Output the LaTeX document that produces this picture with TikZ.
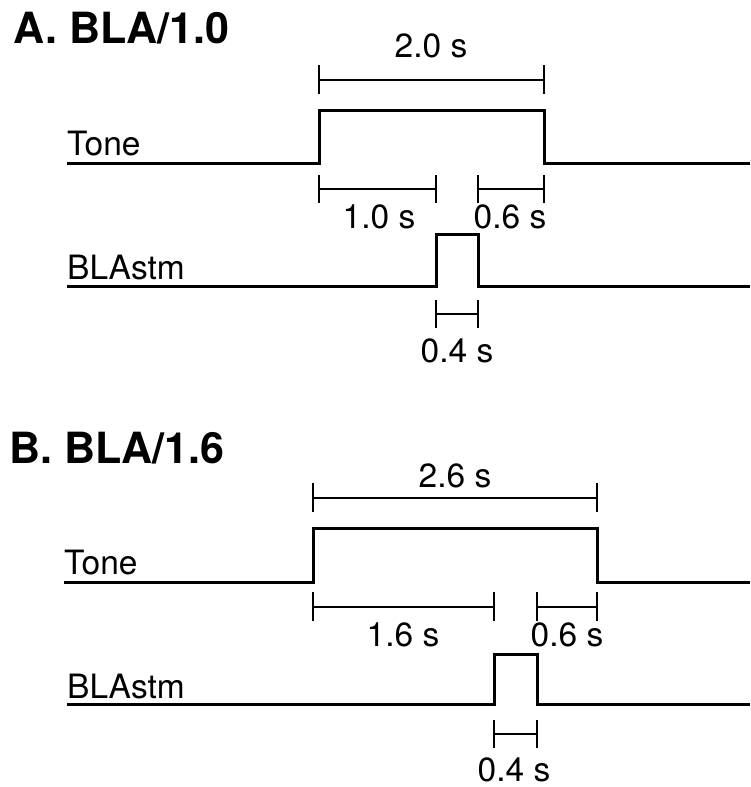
\documentclass[tikz,border=0pt]{standalone}
\usepackage{fontspec}
\setmainfont{TeX Gyre Heros}
\begin{document}
\begin{tikzpicture}[x=1pt,y=-1pt,
  signal/.style={line width=3pt,line join=miter},
  bracket/.style={line width=1.8pt},
  lbl/.style={inner sep=0pt,anchor=base,font=\fontsize{33.5}{36}\selectfont},
  side/.style={inner sep=0pt,anchor=base west,font=\fontsize{33.5}{36}\selectfont},
  ttl/.style={inner sep=0pt,anchor=base west,font=\fontsize{43}{47}\selectfont\bfseries}]
\useasboundingbox (0,0) rectangle (750,787);

% ---------------- Panel A ----------------
\node[ttl] (tA) at (13,43) {A. BLA/1.0};
\node[side] (toneA) at (67,155) {Tone};
\node[side] (stmA) at (67,279) {BLAstm};

\coordinate (a0) at (67,163);
\coordinate (a1) at (319,163);
\coordinate (a2) at (319,110);
\coordinate (a3) at (544,110);
\coordinate (a4) at (544,163);
\coordinate (a5) at (750,163);
\draw[signal] (a0) -- (a1) -- (a2) -- (a3) -- (a4) -- (a5);

\coordinate (b0) at (67,286);
\coordinate (b1) at (436,286);
\coordinate (b2) at (436,234);
\coordinate (b3) at (478,234);
\coordinate (b4) at (478,286);
\coordinate (b5) at (750,286);
\draw[signal] (b0) -- (b1) -- (b2) -- (b3) -- (b4) -- (b5);

% brackets A
\coordinate (p1) at (319,80); \coordinate (p2) at (544,80);
\draw[bracket] (p1) -- (p2);
\draw[bracket] ([yshift=-14]p1) -- ([yshift=15]p1);
\draw[bracket] ([yshift=-14]p2) -- ([yshift=15]p2);
\node[lbl] (l20) at (431,57) {2.0 s};

\coordinate (q1) at (319,189); \coordinate (q2) at (436,189);
\draw[bracket] (q1) -- (q2);
\draw[bracket] ([yshift=-14]q1) -- ([yshift=14]q1);
\draw[bracket] ([yshift=-14]q2) -- ([yshift=14]q2);
\node[lbl] (l10) at (379,228) {1.0 s};

\coordinate (r1) at (478,189); \coordinate (r2) at (544,189);
\draw[bracket] (r1) -- (r2);
\draw[bracket] ([yshift=-14]r1) -- ([yshift=14]r1);
\draw[bracket] ([yshift=-14]r2) -- ([yshift=14]r2);
\node[lbl] (l06a) at (510,228) {0.6 s};

\coordinate (s1) at (436,314); \coordinate (s2) at (478,314);
\draw[bracket] (s1) -- (s2);
\draw[bracket] ([yshift=-14]s1) -- ([yshift=14]s1);
\draw[bracket] ([yshift=-14]s2) -- ([yshift=14]s2);
\node[lbl] (l04a) at (457,362) {0.4 s};

% ---------------- Panel B ----------------
\node[ttl] (tB) at (9,463) {B. BLA/1.6};
\node[side] (toneB) at (64,574) {Tone};
\node[side] (stmB) at (67,698) {BLAstm};

\coordinate (c0) at (64,582);
\coordinate (c1) at (313,582);
\coordinate (c2) at (313,528);
\coordinate (c3) at (597,528);
\coordinate (c4) at (597,582);
\coordinate (c5) at (750,582);
\draw[signal] (c0) -- (c1) -- (c2) -- (c3) -- (c4) -- (c5);

\coordinate (d0) at (67,704);
\coordinate (d1) at (494,704);
\coordinate (d2) at (494,654);
\coordinate (d3) at (537,654);
\coordinate (d4) at (537,704);
\coordinate (d5) at (750,704);
\draw[signal] (d0) -- (d1) -- (d2) -- (d3) -- (d4) -- (d5);

\coordinate (e1) at (313,498); \coordinate (e2) at (597,498);
\draw[bracket] (e1) -- (e2);
\draw[bracket] ([yshift=-14]e1) -- ([yshift=15]e1);
\draw[bracket] ([yshift=-14]e2) -- ([yshift=15]e2);
\node[lbl] (l26) at (455,487) {2.6 s};

\coordinate (f1) at (313,607); \coordinate (f2) at (494,607);
\draw[bracket] (f1) -- (f2);
\draw[bracket] ([yshift=-14]f1) -- ([yshift=15]f1);
\draw[bracket] ([yshift=-14]f2) -- ([yshift=15]f2);
\node[lbl] (l16) at (403,646) {1.6 s};

\coordinate (g1) at (537,607); \coordinate (g2) at (597,607);
\draw[bracket] (g1) -- (g2);
\draw[bracket] ([yshift=-14]g1) -- ([yshift=15]g1);
\draw[bracket] ([yshift=-14]g2) -- ([yshift=15]g2);
\node[lbl] (l06b) at (567,646) {0.6 s};

\coordinate (h1) at (494,734); \coordinate (h2) at (537,734);
\draw[bracket] (h1) -- (h2);
\draw[bracket] ([yshift=-14]h1) -- ([yshift=14]h1);
\draw[bracket] ([yshift=-14]h2) -- ([yshift=14]h2);
\node[lbl] (l04b) at (514,781) {0.4 s};
\end{tikzpicture}
\end{document}
